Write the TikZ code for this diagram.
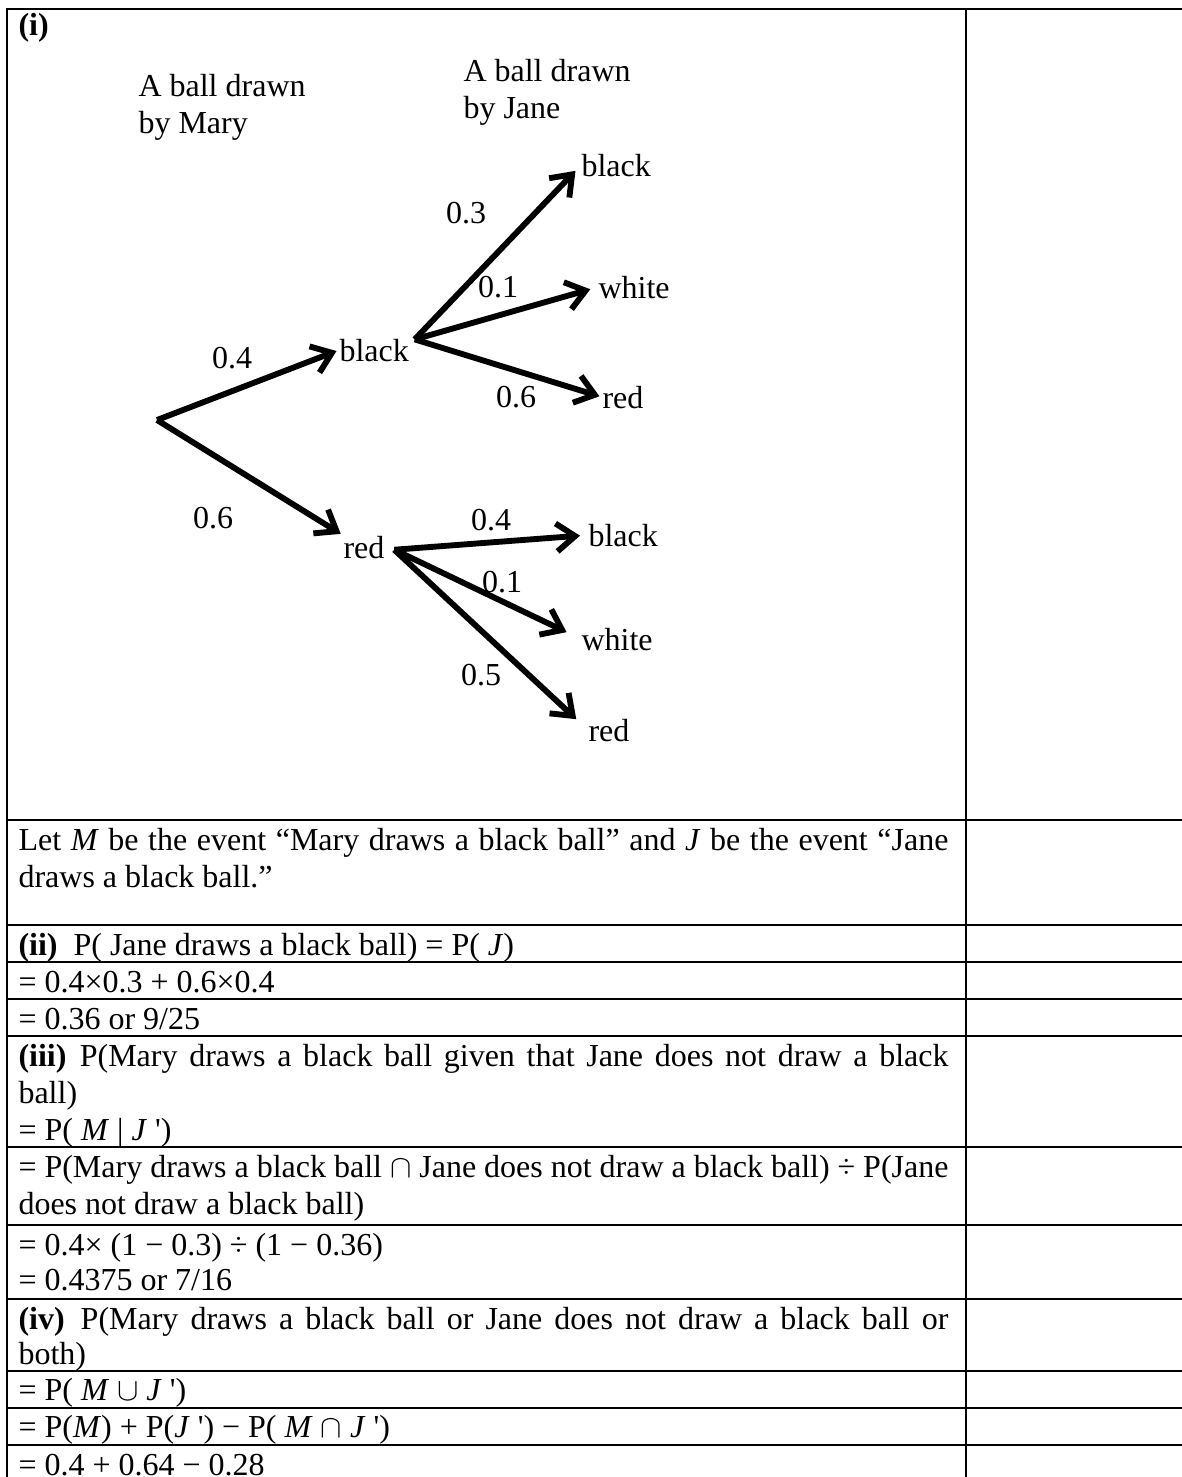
\documentclass[12pt,tikz,border=0pt]{standalone}
\usepackage{fontspec}
\setmainfont{Liberation Serif}
\usepackage{tikz}
\usetikzlibrary{arrows.meta}

\tikzset{
  branch/.style={line width=2.2pt,-{Straight Barb[length=7pt,width=10.5pt]},shorten >=3pt},
  outcome/.style={anchor=base west,inner sep=0pt},
  prob/.style={inner sep=0pt},
  cell/.style={anchor=base west,inner sep=0pt},
  rule/.style={line width=1.1pt}
}
\newcommand{\fullline}[1]{\makebox[348.75pt][s]{#1}}
\newcommand{\qs}{\textquotesingle}

\begin{document}
\begin{tikzpicture}[x=0.375pt,y=-0.375pt]
\useasboundingbox (0,0) rectangle (1182,1477);
% frame and rows
\draw[rule] (7,1477) -- (7,9) -- (1182,9);
\draw[rule] (966,9) -- (966,1477);
\foreach \y in {820,925,962,999,1036,1147,1225,1299,1371,1408,1445}
  \draw[rule] (7,\y) -- (1182,\y);

% (i) tree diagram
\node[cell] (parti) at (18,35) {\textbf{(i)}};
\node[cell] (marya) at (138,96) {A ball drawn};
\node[cell] (maryb) at (138,133) {by Mary};
\node[cell] (janea) at (463,81) {A ball drawn};
\node[cell] (janeb) at (463,118) {by Jane};

\coordinate (root) at (157,420);
\node[outcome] (mb) at (339,361) {black};
\node[outcome] (mr) at (343,558) {red};
\node[outcome] (bb) at (581,176) {black};
\node[outcome] (bw) at (598,298) {white};
\node[outcome] (br) at (602,408) {red};
\node[outcome] (rb) at (588,546) {black};
\node[outcome] (rw) at (581,650) {white};
\node[outcome] (rr) at (588,741) {red};
\coordinate (mbj) at ([shift={(2pt,4pt)}]mb.east);
\coordinate (mrj) at ([shift={(3.5pt,-1pt)}]mr.east);

\draw[branch,shorten >=1pt] (root) -- (mb.west);
\draw[branch,shorten >=1pt] (root) -- (mr.north west);
\draw[branch] (mbj) -- (bb.west);
\draw[branch] (mbj) -- (bw.west);
\draw[branch,shorten >=1pt] (mbj) -- (br.west);
\draw[branch] (mrj) -- (rb.west);
\draw[branch,shorten >=6pt] (mrj) -- (rw.west);
\draw[branch,shorten >=6pt] (mrj) -- (rr.west);

\node[prob] (p1) at (232,358) {0.4};
\node[prob] (p2) at (213,518) {0.6};
\node[prob] (p3) at (466,213) {0.3};
\node[prob] (p4) at (498,287) {0.1};
\node[prob] (p5) at (516,397) {0.6};
\node[prob] (p6) at (491,520) {0.4};
\node[prob] (p7) at (502,582) {0.1};
\node[prob] (p8) at (481,675) {0.5};

% working
\node[cell] (let1) at (18,850) {\fullline{Let \textit{M} be the event “Mary draws a black ball” and \textit{J} be the event “Jane}};
\node[cell] (let2) at (18,887) {draws a black ball.”};
\node[cell] (ii1) at (18,955) {\textbf{(ii)}\hspace{6pt}P( Jane draws a black ball) = P( \textit{J})};
\node[cell] (ii2) at (18,992) {= 0.4×0.3 + 0.6×0.4};
\node[cell] (ii3) at (18,1029) {= 0.36 or 9/25};
\node[cell] (iii1) at (18,1066) {\fullline{\textbf{(iii)}\hspace{5pt}P(Mary draws a black ball given that Jane does not draw a black}};
\node[cell] (iii2) at (18,1103) {ball)};
\node[cell] (iii3) at (18,1140) {= P( \textit{M} | \textit{J} \qs)};
\node[cell] (iii4) at (18,1177) {\fullline{= P(Mary draws a black ball $\cap$ Jane does not draw a black ball) ÷ P(Jane}};
\node[cell] (iii5) at (18,1214) {does not draw a black ball)};
\node[cell] (iii6) at (18,1255) {= 0.4× (1 − 0.3) ÷ (1 − 0.36)};
\node[cell] (iii7) at (18,1290) {= 0.4375 or 7/16};
\node[cell] (iv1) at (18,1329) {\fullline{\textbf{(iv)}\hspace{6pt}P(Mary draws a black ball or Jane does not draw a black ball or}};
\node[cell] (iv2) at (18,1364) {both)};
\node[cell] (iv3) at (18,1400) {= P( \textit{M} $\cup$ \textit{J} \qs)};
\node[cell] (iv4) at (18,1437) {= P(\textit{M}) + P(\textit{J} \qs) − P( \textit{M} $\cap$ \textit{J} \qs)};
\node[cell] (iv5) at (18,1475) {= 0.4 + 0.64 − 0.28};
\end{tikzpicture}
\end{document}
